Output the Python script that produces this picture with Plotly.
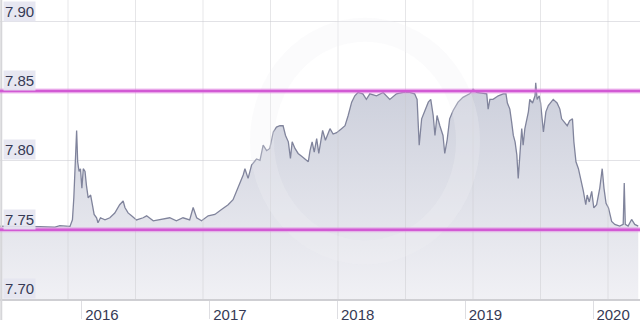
import plotly.graph_objects as go

dates = [
    "2015-05-12", "2015-07-08", "2015-09-03", "2015-10-16", "2015-10-30", "2015-11-28",
    "2015-12-05", "2015-12-09", "2015-12-12", "2015-12-17", "2015-12-20", "2015-12-24",
    "2015-12-28", "2016-01-01", "2016-01-05", "2016-01-10", "2016-01-14", "2016-01-19",
    "2016-01-26", "2016-01-30", "2016-02-05", "2016-02-12", "2016-02-16", "2016-02-23",
    "2016-03-07", "2016-03-21", "2016-04-04", "2016-04-18", "2016-04-28", "2016-05-03",
    "2016-05-12", "2016-05-22", "2016-06-05", "2016-06-24", "2016-07-04", "2016-07-23",
    "2016-08-11", "2016-09-08", "2016-09-27", "2016-10-16", "2016-11-04", "2016-11-14",
    "2016-11-24", "2016-12-08", "2016-12-27", "2017-01-15", "2017-02-03", "2017-02-22",
    "2017-03-08", "2017-03-22", "2017-04-06", "2017-04-11", "2017-04-20", "2017-04-30",
    "2017-05-14", "2017-05-24", "2017-06-02", "2017-06-12", "2017-06-21", "2017-07-01",
    "2017-07-10", "2017-07-20", "2017-07-29", "2017-08-05", "2017-08-13", "2017-08-19",
    "2017-08-24", "2017-09-01", "2017-09-10", "2017-09-20", "2017-09-29", "2017-10-09",
    "2017-10-14", "2017-10-20", "2017-10-26", "2017-11-02", "2017-11-08", "2017-11-19",
    "2017-11-27", "2017-12-10", "2017-12-19", "2017-12-29", "2018-01-12", "2018-01-22",
    "2018-01-31", "2018-02-10", "2018-02-19", "2018-02-28", "2018-03-14", "2018-03-24",
    "2018-04-03", "2018-04-22", "2018-05-11", "2018-05-30", "2018-06-18", "2018-07-07",
    "2018-07-26", "2018-08-09", "2018-08-16", "2018-08-22", "2018-08-29", "2018-09-07",
    "2018-09-17", "2018-09-24", "2018-10-01", "2018-10-06", "2018-10-12", "2018-10-20",
    "2018-10-29", "2018-11-03", "2018-11-10", "2018-11-17", "2018-11-27", "2018-12-11",
    "2018-12-25", "2019-01-13", "2019-01-23", "2019-02-02", "2019-02-21", "2019-03-03",
    "2019-03-07", "2019-03-12", "2019-03-21", "2019-04-05", "2019-04-19", "2019-04-27",
    "2019-05-01", "2019-05-08", "2019-05-13", "2019-05-18", "2019-05-23", "2019-05-28",
    "2019-06-01", "2019-06-06", "2019-06-11", "2019-06-15", "2019-06-20", "2019-06-30",
    "2019-07-04", "2019-07-12", "2019-07-19", "2019-07-21", "2019-07-25", "2019-07-31",
    "2019-08-04", "2019-08-12", "2019-08-19", "2019-08-26", "2019-09-09", "2019-09-20",
    "2019-09-28", "2019-10-03", "2019-10-12", "2019-10-19", "2019-10-26", "2019-11-03",
    "2019-11-07", "2019-11-13", "2019-11-20", "2019-11-27", "2019-12-04", "2019-12-11",
    "2019-12-15", "2019-12-21", "2019-12-28", "2020-01-03", "2020-01-11", "2020-01-20",
    "2020-01-27", "2020-02-01", "2020-02-07", "2020-02-14", "2020-02-23", "2020-03-03",
    "2020-03-17", "2020-03-27", "2020-03-30", "2020-04-02", "2020-04-10", "2020-04-20",
    "2020-04-29", "2020-05-09",
]

rates = [
    7.7525, 7.7525, 7.7522, 7.7518, 7.7529, 7.7524,
    7.7571, 7.7730, 7.7940, 7.8216, 7.7990, 7.7920,
    7.7940, 7.7800, 7.7940, 7.7920, 7.7820, 7.7730,
    7.7750, 7.7680, 7.7610, 7.7586, 7.7550, 7.7586,
    7.7571, 7.7586, 7.7620, 7.7680, 7.7707, 7.7660,
    7.7621, 7.7600, 7.7570, 7.7586, 7.7600, 7.7564,
    7.7571, 7.7586, 7.7564, 7.7586, 7.7571, 7.7660,
    7.7586, 7.7564, 7.7600, 7.7610, 7.7645, 7.7680,
    7.7716, 7.7800, 7.7895, 7.7940, 7.7870, 7.7966,
    7.8010, 7.8000, 7.8110, 7.8070, 7.8086, 7.8205,
    7.8240, 7.8250, 7.8250, 7.8180, 7.8134, 7.8014,
    7.8134, 7.8086, 7.8050, 7.8030, 7.8014, 7.7990,
    7.8070, 7.8134, 7.8060, 7.8157, 7.8050, 7.8216,
    7.8145, 7.8229, 7.8190, 7.8200, 7.8229, 7.8250,
    7.8324, 7.8420, 7.8466, 7.8490, 7.8480, 7.8440,
    7.8480, 7.8466, 7.8490, 7.8440, 7.8480, 7.8490,
    7.8490, 7.8480, 7.8440, 7.8110, 7.8300, 7.8360,
    7.8420, 7.8440, 7.8324, 7.8180, 7.8324, 7.8250,
    7.8180, 7.8050, 7.8150, 7.8300, 7.8360, 7.8420,
    7.8455, 7.8480, 7.8514, 7.8490, 7.8480, 7.8480,
    7.8370, 7.8440, 7.8440, 7.8466, 7.8480, 7.8480,
    7.8414, 7.8370, 7.8280, 7.8180, 7.8134, 7.8040,
    7.7870, 7.8040, 7.8230, 7.8110, 7.8230, 7.8350,
    7.8440, 7.8414, 7.8466, 7.8560, 7.8440, 7.8466,
    7.8414, 7.8205, 7.8350, 7.8395, 7.8440, 7.8414,
    7.8370, 7.8300, 7.8276, 7.8250, 7.8286, 7.8300,
    7.8134, 7.7990, 7.7940, 7.7870, 7.7780, 7.7680,
    7.7750, 7.7700, 7.7776, 7.7657, 7.7680, 7.7800,
    7.7940, 7.7800, 7.7690, 7.7657, 7.7560, 7.7538,
    7.7526, 7.7538, 7.7836, 7.7538, 7.7526, 7.7574,
    7.7538, 7.7526,
]

x_range = ["2015-05-12", "2020-05-14"]
y_range = [7.70, 7.9157]
year_ticks = ["2016-01-01", "2017-01-01", "2018-01-01", "2019-01-01", "2020-01-01"]
year_labels = ["2016", "2017", "2018", "2019", "2020"]
y_ticks = [7.70, 7.75, 7.80, 7.85, 7.90]
y_labels = ["7.70", "7.75", "7.80", "7.85", "7.90"]
band_levels = [7.75, 7.85]

W, H = 640, 323
FONT = "Liberation Sans, Arial, Helvetica, sans-serif"
TXT = "#363a55"

fig = go.Figure()
fig.add_trace(go.Scatter(
    x=dates, y=rates, mode="lines",
    line=dict(color="#80849c", width=1.3),
    fill="tozeroy",
    fillgradient=dict(type="vertical", start=7.70, stop=7.85,
                      colorscale=[[0, "#f1f1f5"], [1, "#cdd0dc"]]),
    hoverinfo="skip",
))

shapes = []
# vertical grid lines (fixed pixel spacing in the original widget)
for i in range(1, 10):
    xp = (i * 67.5 + 0.5) / W
    shapes.append(dict(type="line", xref="paper", yref="paper", x0=xp, x1=xp, y0=0, y1=1,
                       line=dict(color="rgba(200,200,205,0.45)", width=1), layer="above"))
# left border
shapes.append(dict(type="line", xref="paper", yref="paper", x0=0.002, x1=0.002, y0=-0.07, y1=1,
                   line=dict(color="#d6d6d9", width=2), layer="above"))
# faint watermark ring
shapes.append(dict(type="circle", xref="paper", yref="paper",
                   x0=262 / W, x1=468 / W, y0=1 - 255 / 302, y1=1 - 30 / 302,
                   line=dict(color="rgba(240,240,246,0.28)", width=24), layer="above"))
# magenta band lines
for lv in band_levels:
    shapes.append(dict(type="line", xref="paper", yref="y", x0=0, x1=1, y0=lv, y1=lv,
                       line=dict(color="rgba(225,140,228,0.55)", width=5), layer="above"))
    shapes.append(dict(type="line", xref="paper", yref="y", x0=0, x1=1, y0=lv, y1=lv,
                       line=dict(color="#d25ad4", width=2.4), layer="above"))

annotations = []
for v, t in zip(y_ticks, y_labels):
    annotations.append(dict(x=0, xref="paper", y=v, yref="y", text=t, showarrow=False,
                            xanchor="left", yanchor="bottom", xshift=3, yshift=0,
                            font=dict(family=FONT, size=15, color=TXT),
                            bgcolor="rgba(228,228,240,0.9)", borderpad=1))

fig.update_layout(
    width=W, height=H,
    margin=dict(l=0, r=0, t=0, b=21),
    paper_bgcolor="white", plot_bgcolor="white",
    showlegend=False,
    shapes=shapes, annotations=annotations,
    xaxis=dict(
        type="date", range=x_range, showgrid=False, zeroline=False,
        tickmode="array", tickvals=year_ticks, ticktext=year_labels,
        ticks="outside", ticklen=18, tickcolor="#dedee2", tickwidth=1,
        ticklabelshift=20, ticklabelstandoff=-17,
        tickfont=dict(family=FONT, size=15, color=TXT),
        showline=True, linecolor="#cfcfd3", linewidth=2,
        fixedrange=True,
    ),
    yaxis=dict(
        range=y_range, tickmode="array", tickvals=y_ticks, showticklabels=False,
        showgrid=True, gridcolor="#e2e2e6", gridwidth=1, zeroline=False,
        fixedrange=True,
    ),
)

fig.write_html("out.html")
